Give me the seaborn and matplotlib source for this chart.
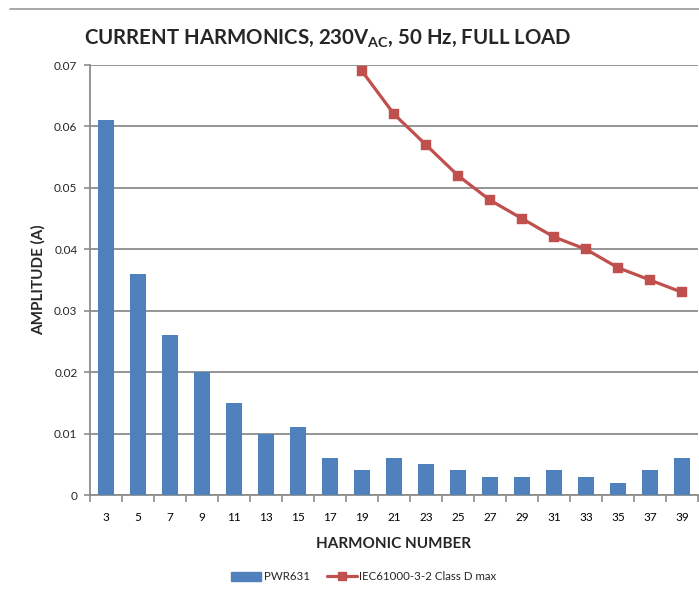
import numpy as np
import pandas as pd
import matplotlib
matplotlib.use("Agg")
import matplotlib.pyplot as plt
import seaborn as sns
from matplotlib.patches import Patch
from matplotlib.lines import Line2D

harmonics = ["3", "5", "7", "9", "11", "13", "15", "17", "19", "21",
             "23", "25", "27", "29", "31", "33", "35", "37", "39"]
pwr631 = [0.061, 0.036, 0.026, 0.020, 0.015, 0.010, 0.011, 0.006, 0.004, 0.006,
          0.005, 0.004, 0.003, 0.003, 0.004, 0.003, 0.002, 0.004, 0.006]
limit_harmonics = ["19", "21", "23", "25", "27", "29", "31", "33", "35", "37", "39"]
limit_values = [0.069, 0.062, 0.057, 0.052, 0.048, 0.045, 0.042, 0.040, 0.037, 0.035, 0.033]
yticks = [0, 0.01, 0.02, 0.03, 0.04, 0.05, 0.06, 0.07]
ytick_labels = ["0", "0.01", "0.02", "0.03", "0.04", "0.05", "0.06", "0.07"]

BAR = "#4F81BD"
LINE = "#C0504D"
GRID = "#8C8C8C"

sns.set_theme(style="white")
plt.rcParams['font.family'] = ['Lato', 'DejaVu Sans']
plt.rcParams['mathtext.fontset'] = 'custom'
plt.rcParams['mathtext.rm'] = 'Lato'
plt.rcParams['mathtext.bf'] = 'Lato:bold'

fig = plt.figure(figsize=(6.99, 5.93), dpi=100)
ax = fig.add_axes([90/699, 1 - 495/593, 608/699, 430/593])

df_bar = pd.DataFrame({"harm": harmonics, "amp": pwr631})
df_line = pd.DataFrame({"harm": limit_harmonics, "lim": limit_values})

sns.barplot(data=df_bar, x="harm", y="amp", order=harmonics, color=BAR,
            width=0.47, saturation=1, ax=ax, zorder=3, linewidth=0, edgecolor=BAR)
sns.pointplot(data=df_line, x="harm", y="lim", order=harmonics, color=LINE,
              markers="s", markersize=6, linewidth=2.3, ax=ax, zorder=4)

ax.set_xlim(-0.5, len(harmonics) - 0.5)
ax.set_ylim(0, 0.07)
ax.set_yticks(yticks)
ax.set_yticklabels(ytick_labels)
ax.yaxis.grid(True, color=GRID, linewidth=1.3, zorder=0)
ax.set_axisbelow(True)

ax.set_xticks(np.arange(len(harmonics)))
ax.set_xticklabels(harmonics)
ax.set_xticks(np.arange(-0.5, len(harmonics), 1.0), minor=True)
ax.tick_params(axis="x", which="both", bottom=True)
ax.tick_params(axis="y", which="both", left=True)
ax.tick_params(axis="x", which="major", length=0, pad=12, labelsize=8.5, colors="black")
ax.tick_params(axis="x", which="minor", length=5, width=1.2, color=GRID, direction="out")
ax.tick_params(axis="y", which="major", length=4, width=1.2, color=GRID, direction="out",
               pad=5, labelsize=8.5)

for s in ["top", "right"]:
    ax.spines[s].set_visible(False)
for s in ["left", "bottom"]:
    ax.spines[s].set_color(GRID)
    ax.spines[s].set_linewidth(1.3)

ax.set_xlabel("HARMONIC NUMBER", fontsize=11, fontweight="bold", labelpad=10)
ax.set_ylabel("AMPLITUDE (A)", fontsize=11, fontweight="bold", labelpad=6)

fig.text(328/699, 1 - 38/593, r"CURRENT HARMONICS, 230V$_\mathbf{AC}$, 50 Hz, FULL LOAD",
         fontsize=14.7, fontweight="bold", ha="center", va="center")

fig.add_artist(Line2D([10/699, 1.0], [1 - 9/593, 1 - 9/593], color="#9A9A9A", linewidth=1.2))

handles = [Patch(facecolor=BAR, edgecolor=BAR),
           Line2D([0], [0], color=LINE, linewidth=2.3, marker="s", markersize=6)]
labels = ["PWR631", "IEC61000-3-2 Class D max"]
fig.legend(handles, labels, loc="center", bbox_to_anchor=(364/699, 1 - 577/593), ncol=2,
           frameon=False, fontsize=8.3, handlelength=2.6, handletextpad=0.2, columnspacing=1.5)

fig.savefig("out.png", dpi=100)
